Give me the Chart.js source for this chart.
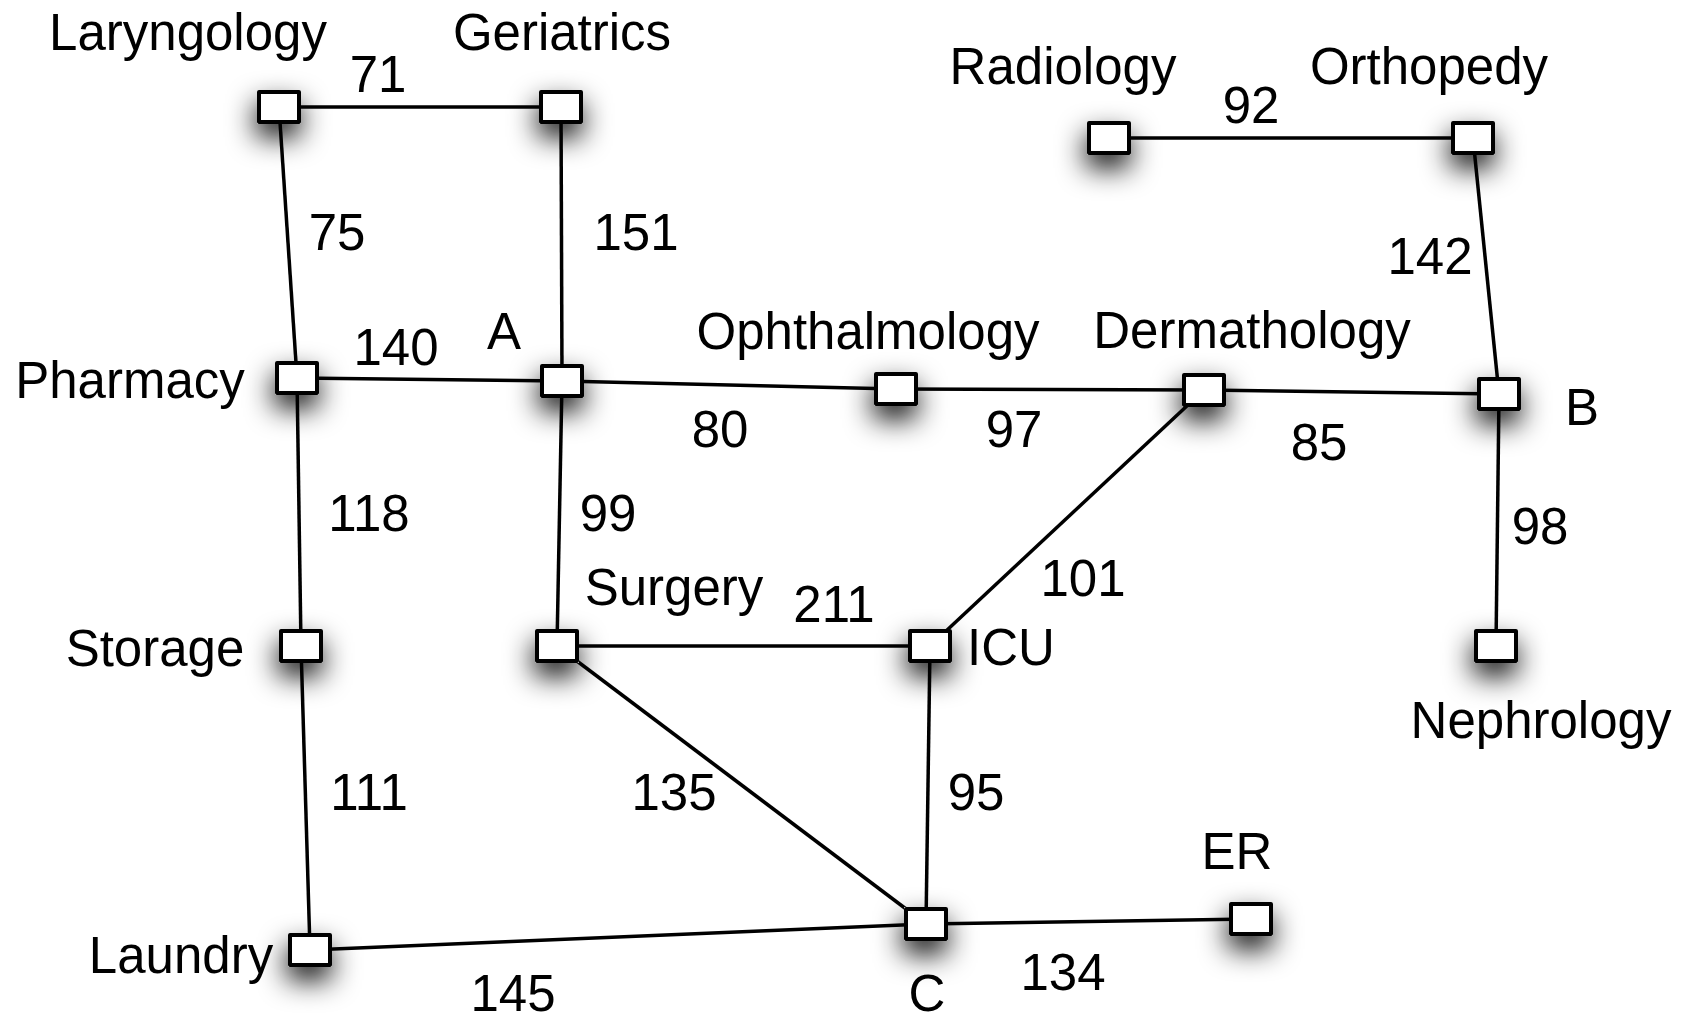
<!DOCTYPE html>
<html>
<head>
<meta charset="utf-8">
<style>
  html, body { margin: 0; padding: 0; background: #fff; }
  canvas { display: block; }
</style>
<script src="https://cdn.jsdelivr.net/npm/chart.js@4/dist/chart.umd.min.js"></script>
</head>
<body>
<canvas id="myChart" width="1681" height="1018"></canvas>
<script>
// nodes (layout units = page pixels)
const nodeNames = ['Laryngology', 'Geriatrics', 'Radiology', 'Orthopedy', 'Pharmacy', 'A',
    'Ophthalmology', 'Dermathology', 'B', 'Storage', 'Surgery', 'ICU', 'Nephrology',
    'Laundry', 'C', 'ER'];
const nodeX = [279, 561, 1109, 1473, 297, 562, 896, 1204, 1499, 301, 557, 930, 1496, 310, 926, 1251];
const nodeY = [107, 107, 138, 138, 378, 381, 389, 390, 394, 646, 646, 646, 646, 950, 924, 919];

// where each node name is written (centre x, baseline y)
const nodeLabelX = [188, 562, 1063, 1429, 130, 504, 868, 1252, 1582, 155, 674, 1011, 1541, 181, 927, 1237];
const nodeLabelY = [50, 50, 84, 84, 398, 349, 349, 348, 425, 666, 605, 665, 738, 973, 1011, 869];

// edges
const edgeFrom = ['Laryngology', 'Laryngology', 'Geriatrics', 'Radiology', 'Orthopedy', 'Pharmacy',
    'A', 'Ophthalmology', 'Dermathology', 'Pharmacy', 'A', 'B', 'Dermathology', 'Surgery',
    'Storage', 'Surgery', 'ICU', 'C', 'Laundry'];
const edgeTo = ['Geriatrics', 'Pharmacy', 'A', 'Orthopedy', 'B', 'A',
    'Ophthalmology', 'Dermathology', 'B', 'Storage', 'Surgery', 'Nephrology', 'ICU', 'ICU',
    'Laundry', 'C', 'C', 'ER', 'C'];
const edgeWeights = [71, 75, 151, 92, 142, 140, 80, 97, 85, 118, 99, 98, 101, 211, 111, 135, 95, 134, 145];

// where each weight is written (centre x, baseline y)
const weightX = [378, 337, 636, 1251, 1430, 396, 720, 1014, 1319, 369, 608, 1540, 1083, 834, 369, 674, 976, 1063, 513];
const weightY = [92, 250, 250, 123, 274, 365, 447, 447, 460, 531, 531, 544, 596, 622, 810, 810, 810, 990, 1011];

const FONT = '51px "Liberation Sans", Arial, Helvetica, sans-serif';

// node marker: white box, black border, soft drop shadow
const makeNodeImage = () => {
    const w = 40, h = 30, pad = 60;
    const c = document.createElement('canvas');
    c.width = w + pad * 2;
    c.height = h + pad * 2;
    const g = c.getContext('2d');
    g.save();
    g.shadowColor = 'rgba(0, 0, 0, 0.95)';
    g.shadowBlur = 28;
    g.shadowOffsetX = -1;
    g.shadowOffsetY = 13;
    g.fillStyle = '#fff';
    g.fillRect(pad - 2, pad - 2, w + 4, h + 4);
    g.restore();
    g.fillStyle = '#fff';
    g.fillRect(pad, pad, w, h);
    g.lineWidth = 4;
    g.lineJoin = 'round';
    g.strokeStyle = '#000';
    g.strokeRect(pad, pad, w, h);
    return c;
}

const nodeIndex = (name) => nodeNames.indexOf(name);

const edgeDatasets = edgeFrom.map((from, i) => {
    const a = nodeIndex(from), b = nodeIndex(edgeTo[i]);
    return {
        label: from + '-' + edgeTo[i],
        data: [{ x: nodeX[a], y: nodeY[a] }, { x: nodeX[b], y: nodeY[b] }],
        showLine: true,
        borderColor: '#000',
        borderWidth: 3.5,
        pointRadius: 0,
        order: 1
    };
});

const nodeDataset = {
    label: 'nodes',
    data: nodeNames.map((n, i) => ({ x: nodeX[i], y: nodeY[i] })),
    pointStyle: makeNodeImage(),
    pointRadius: 1,
    order: 0
};

// text labels for node names and edge weights
const textPlugin = {
    id: 'graphText',
    afterDatasetsDraw(chart) {
        const { ctx, scales: { x, y } } = chart;
        ctx.save();
        ctx.font = FONT;
        ctx.fillStyle = '#000';
        ctx.textAlign = 'center';
        ctx.textBaseline = 'alphabetic';
        nodeNames.forEach((name, i) => {
            ctx.fillText(name, x.getPixelForValue(nodeLabelX[i]), y.getPixelForValue(nodeLabelY[i]));
        });
        edgeWeights.forEach((wgt, i) => {
            ctx.fillText(String(wgt), x.getPixelForValue(weightX[i]), y.getPixelForValue(weightY[i]));
        });
        ctx.restore();
    }
}

const ctx = document.getElementById('myChart').getContext('2d');

let config = {
    type: 'scatter',
    data: {
        datasets: [nodeDataset, ...edgeDatasets]
    },
    options: {
        responsive: false,
        animation: false,
        devicePixelRatio: 1,
        events: [],
        clip: false,
        layout: { padding: 0, autoPadding: false },
        plugins: {
            legend: { display: false },
            tooltip: { enabled: false }
        },
        scales: {
            x: { type: 'linear', min: 0, max: 1681, display: false },
            y: { type: 'linear', min: 0, max: 1018, reverse: true, display: false }
        }
    },
    plugins: [textPlugin]
};

const chart = new Chart(ctx, config);
</script>
</body>
</html>
